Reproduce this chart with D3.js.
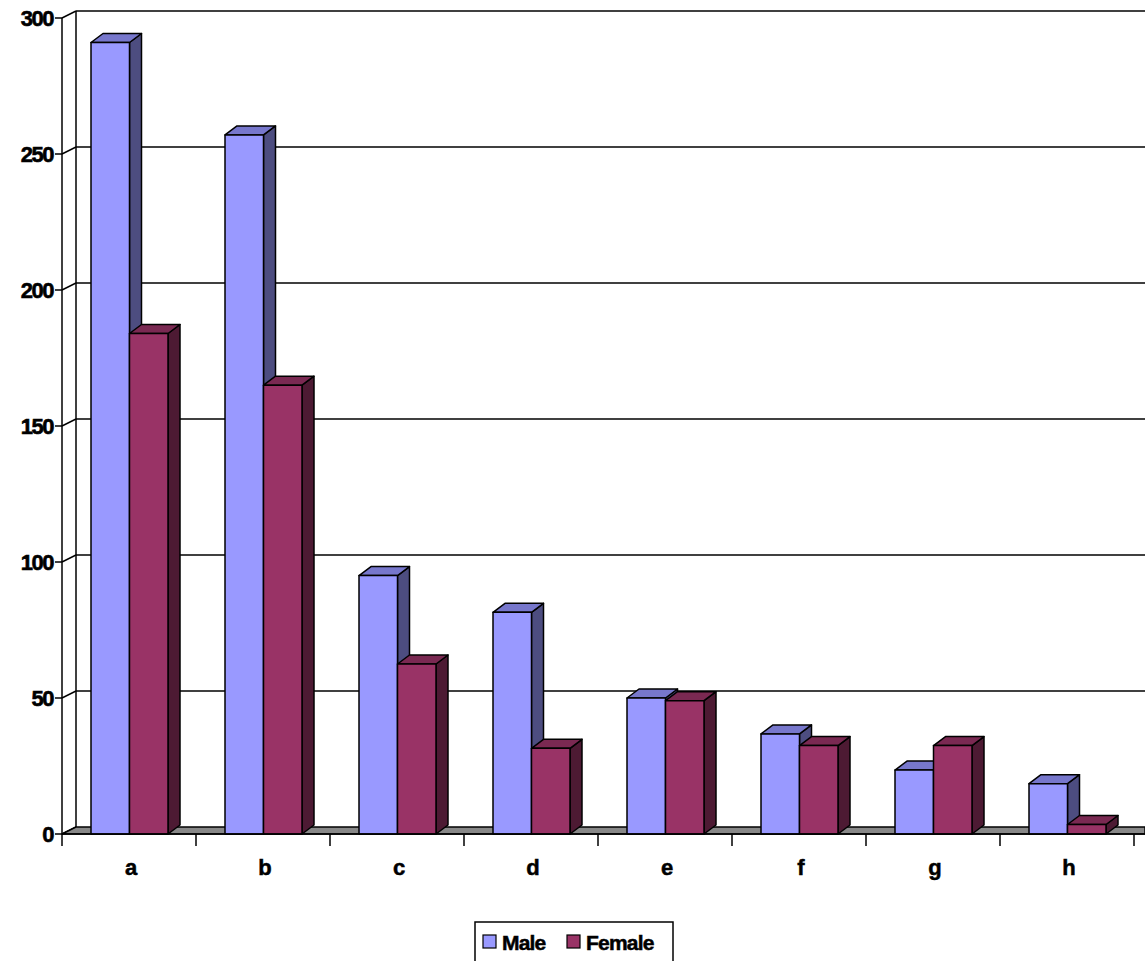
<!DOCTYPE html><html><head><meta charset="utf-8"><script src="https://cdn.jsdelivr.net/npm/d3@7"></script>
<style>body{margin:0;background:#fff}text{font-family:"Liberation Sans",Arial,sans-serif;font-weight:bold}</style></head><body>
<svg id="c" width="1145" height="961"></svg>
<script>
const categories=["a","b","c","d","e","f","g","h"];
const male=[291,257,95,81.5,50,36.8,23.5,18.5];
const female=[184,165,62.5,31.5,49,32.5,32.5,3.5];
const yTicks=[0,50,100,150,200,250,300];
const series=[{name:"Male",vals:male,front:"#9999ff",top:"#7777cc",side:"#4d4d80"},
{name:"Female",vals:female,front:"#993366",top:"#7a2952",side:"#4d1a33"}];
const svg=d3.select("#c");
const x0=62,x1=1134,y0=834,y1=18,DX=14,DY=-7,bdx=12,bdy=-9;
const x=d3.scaleBand().domain(categories).range([x0,x1]);
const y=d3.scaleLinear().domain([0,300]).range([y0,y1]);
const L="#000";
yTicks.forEach(t=>{
  if(t>0) svg.append("line").attr("x1",x0+DX).attr("x2",1145).attr("y1",y(t)+DY).attr("y2",y(t)+DY).attr("stroke",L).attr("stroke-width",1.5);
  svg.append("line").attr("x1",x0).attr("x2",x0+DX).attr("y1",y(t)).attr("y2",y(t)+DY).attr("stroke",L).attr("stroke-width",1.5);
  svg.append("line").attr("x1",x0-7).attr("x2",x0).attr("y1",y(t)).attr("y2",y(t)).attr("stroke",L).attr("stroke-width",1.5);
  svg.append("text").attr("x",x0-9).attr("y",y(t)+8).attr("text-anchor","end").attr("font-size",22).attr("stroke","#000").attr("stroke-width",0.6).attr("letter-spacing",-1.5).text(t);
});
svg.append("line").attr("x1",x0+DX).attr("x2",x0+DX).attr("y1",y(300)+DY).attr("y2",y0+DY).attr("stroke",L).attr("stroke-width",1.5);
svg.append("polygon").attr("points",[[x0,y0],[x0+DX,y0+DY],[1145,y0+DY],[1145,y0]].join(" ")).attr("fill","#888").attr("stroke",L).attr("stroke-width",1.5);
const bw=38.5,off=29;
categories.forEach((c,i)=>{
  series.forEach((s,j)=>{
    const bx=x(c)+off+j*bw, top=y(s.vals[i]);
    const g=svg.append("g").attr("stroke",L).attr("stroke-width",1.5).attr("stroke-linejoin","round");
    g.append("polygon").attr("points",[[bx+bw,top],[bx+bw+bdx,top+bdy],[bx+bw+bdx,y0+bdy],[bx+bw,y0]].join(" ")).attr("fill",s.side);
    g.append("polygon").attr("points",[[bx,top],[bx+bdx,top+bdy],[bx+bw+bdx,top+bdy],[bx+bw,top]].join(" ")).attr("fill",s.top);
    g.append("rect").attr("x",bx).attr("y",top).attr("width",bw).attr("height",y0-top).attr("fill",s.front);
  });
});
svg.append("line").attr("x1",x0).attr("x2",x0).attr("y1",y1).attr("y2",y0).attr("stroke",L).attr("stroke-width",1.5);
svg.append("line").attr("x1",x0).attr("x2",1145).attr("y1",y0).attr("y2",y0).attr("stroke",L).attr("stroke-width",1.5);
categories.concat(["_end"]).forEach((c,i)=>{
  const xx=x0+i*x.bandwidth();
  svg.append("line").attr("x1",xx).attr("x2",xx).attr("y1",y0).attr("y2",y0+12).attr("stroke",L).attr("stroke-width",1.5);
});
categories.forEach(c=>svg.append("text").attr("x",x(c)+x.bandwidth()/2+2).attr("y",875).attr("text-anchor","middle").attr("font-size",22).attr("stroke","#000").attr("stroke-width",0.5).text(c));
svg.append("rect").attr("x",475).attr("y",922).attr("width",198).attr("height",40).attr("fill","#fff").attr("stroke",L).attr("stroke-width",1.5);
[[483,"Male",0],[567,"Female",1]].forEach(([lx,n,j])=>{
  svg.append("rect").attr("x",lx).attr("y",935).attr("width",13).attr("height",13).attr("fill",series[j].front).attr("stroke",L).attr("stroke-width",1.2);
  svg.append("text").attr("x",lx+19).attr("y",950).attr("font-size",21).attr("stroke","#000").attr("stroke-width",0.5).attr("letter-spacing",-0.8).text(n);
});
</script></body></html>
